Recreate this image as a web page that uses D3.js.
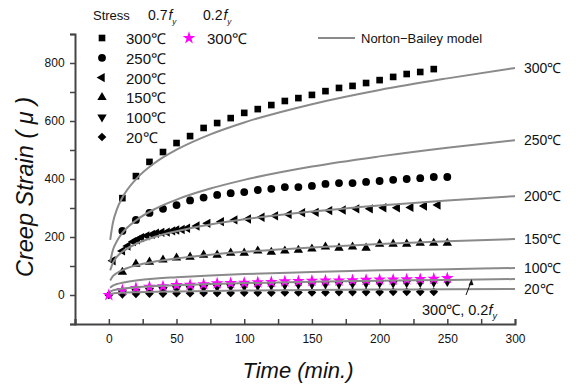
<!doctype html>
<html lang="en">
  <head>
    <meta charset="utf-8">
    <title>Creep strain</title>
    <script src="https://cdn.jsdelivr.net/npm/d3@7"></script>
    <style>
      body { margin: 0; background: #fff; }
      text { font-family: Arial, "Liberation Sans", sans-serif; fill: #111; }
    </style>
  </head>
  <body>
    <script>
      // measured data (0.7fy unless noted)
      const t10 = d3.range(10, 251, 10);
      const s300 = [334, 410, 459, 493, 524, 548, 576, 593, 610, 628, 641, 655, 669, 679, 690, 703, 714, 721, 731, 741, 752, 762, 769, 779];
      const s250 = [221, 259, 283, 297, 310, 326, 336, 345, 351, 355, 362, 366, 372, 372, 376, 383, 386, 386, 390, 393, 397, 400, 403, 407, 407];
      const t200 = [3, 10, 14, 18, 21, 24, 28, 32, 35, 39, 43, 47, 50, 54, 58, 65, 73,
                    83, 93, 103, 113, 123, 133, 143, 153, 163, 173, 183, 193, 203, 213, 223, 233, 243];
      const s200 = [118, 152, 169, 184, 190, 198, 204, 209, 213, 216, 217, 221, 224, 226, 230, 238, 247,
                    253, 259, 262, 268, 273, 278, 284, 285, 291, 293, 297, 297, 301, 301, 302, 307, 310];
      const s150 = [79, 107, 114, 121, 128, 131, 138, 138, 145, 145, 152, 148, 152, 155, 159, 166, 162, 166, 162, 176, 176, 176, 179, 179, 179];
      const s100 = [6, 12, 16, 18, 22, 23, 25, 28, 29, 30, 32, 33, 35, 36, 37, 38, 38, 39, 40, 41, 41, 42, 43, 44, 46];
      const t20 = d3.range(0, 241, 10);
      const s20 = [0, 3, 4, 5, 5, 6, 6, 7, 7, 7, 8, 8, 8, 9, 9, 9, 9, 10, 10, 10, 10, 11, 11, 11, 11];
      const tStar = d3.range(0, 251, 10);
      const s300low = [0, 17, 24, 28, 30, 34, 35, 37, 40, 41, 42, 44, 45, 47, 48, 49, 50, 50, 51, 52, 53, 53, 54, 55, 56, 58];

      // Norton-Bailey model curves
      const tModel = [1, 3, 6, 10, 20, 35, 50, 75, 100, 150, 200, 250, 300];
      const m300 = [190, 249, 296, 336, 399, 459, 501, 554, 595, 658, 707, 747, 783];
      const m250 = [115, 155, 186, 214, 257, 299, 329, 367, 397, 443, 478, 508, 534];
      const m200 = [85, 111, 132, 149, 176, 202, 220, 243, 261, 288, 309, 326, 341];
      const m150 = [50, 65, 76, 86, 102, 116, 126, 139, 149, 164, 176, 185, 193];
      const m100 = [25, 32, 38, 42, 50, 57, 61, 67, 72, 79, 85, 89, 93];
      const m300low = [12, 16, 19, 22, 27, 31, 34, 38, 41, 46, 49, 52, 55];
      const m20 = [4, 5.5, 6.7, 7.8, 9.5, 11.2, 12.4, 14, 15.2, 17.1, 18.6, 19.8, 21];

      const curveLabels = ["300℃", "250℃", "200℃", "150℃", "100℃", "20℃"];
      const legendLabels = ["300℃", "250℃", "200℃", "150℃", "100℃", "20℃"];

      const w = 578, h = 388;
      const x = d3.scaleLinear().domain([-25, 300]).range([75, 515]);
      const y = d3.scaleLinear().domain([-100, 900]).range([324, 34]);

      const svg = d3.select("body").append("svg").attr("width", w).attr("height", h);

      const shapes = {
        square: { type: d3.symbolSquare, size: 44, rot: 0, fill: "#000" },
        circle: { type: d3.symbolCircle, size: 48, rot: 0, fill: "#000" },
        left: { type: d3.symbolTriangle, size: 38, rot: -90, fill: "#000" },
        up: { type: d3.symbolTriangle, size: 38, rot: 0, fill: "#000" },
        down: { type: d3.symbolTriangle, size: 38, rot: 180, fill: "#000" },
        diamond: { type: d3.symbolSquare, size: 38, rot: 45, fill: "#000" },
        star: { type: d3.symbolStar, size: 50, rot: 0, fill: "#ff00ff" }
      };

      const series = [
        { t: t10.slice(0, s300.length), v: s300, shape: "square" },
        { t: t10, v: s250, shape: "circle" },
        { t: t200, v: s200, shape: "left" },
        { t: t10, v: s150, shape: "up" },
        { t: t10, v: s100, shape: "down" },
        { t: t20, v: s20, shape: "diamond" },
        { t: tStar, v: s300low, shape: "star" }
      ];

      function drawSymbol(g, shape, cx, cy) {
        const s = shapes[shape];
        g.append("path")
          .attr("d", d3.symbol().type(s.type).size(s.size)())
          .attr("fill", s.fill)
          .attr("transform", "translate(" + cx + "," + cy + ") rotate(" + s.rot + ")");
      }

      // axes
      const yAxis = d3.axisLeft(y).tickValues(d3.range(-100, 901, 100))
        .tickSize(5).tickFormat(d => (d >= 0 && d % 200 === 0 && d <= 800) ? d : "");
      const gy = svg.append("g").attr("transform", "translate(75,0)").call(yAxis);
      const xAxis = d3.axisBottom(x).tickValues(d3.range(-25, 301, 25))
        .tickSize(-5).tickFormat(d => (d >= 0 && d % 50 === 0) ? d : "");
      const gx = svg.append("g").attr("transform", "translate(0,324)").call(xAxis);
      [gx, gy].forEach(g => {
        g.select(".domain").attr("stroke", "#444").attr("stroke-width", 2);
        g.selectAll(".tick line").attr("stroke", "#444").attr("stroke-width", 1.5);
        g.selectAll(".tick text").attr("font-size", 12).attr("fill", "#111")
          .attr("font-family", "Arial, 'Liberation Sans', sans-serif");
      });
      gx.selectAll(".tick text").attr("dy", "1.3em");
      gy.selectAll(".tick text").attr("dx", "-0.2em");

      // markers
      const marks = svg.append("g");
      series.forEach(s => {
        s.t.forEach((t, i) => drawSymbol(marks, s.shape, x(t), y(s.v[i])));
      });

      // model curves
      const models = [m300, m250, m200, m150, m100, m300low, m20];
      const line = d3.line().x((d, i) => x(tModel[i])).y(d => y(d)).curve(d3.curveMonotoneX);
      models.forEach(m => {
        svg.append("path").attr("d", line(m)).attr("fill", "none")
          .attr("stroke", "#8a8a8a").attr("stroke-width", 2);
      });

      // curve end labels
      const endVals = [m300, m250, m200, m150, m100, m20];
      endVals.forEach((m, i) => {
        svg.append("text").attr("x", 524).attr("y", y(m[m.length - 1]) + 5)
          .attr("font-size", 14).text(curveLabels[i]);
      });

      // annotation for 0.2fy curve
      svg.append("line").attr("x1", 466).attr("y1", 295).attr("x2", 471).attr("y2", 282)
        .attr("stroke", "#111").attr("stroke-width", 1);
      svg.append("path").attr("d", "M471.5,279 L468.5,285.5 L473.5,285 Z").attr("fill", "#111");
      const ann = svg.append("text").attr("x", 422).attr("y", 315).attr("font-size", 14.5);
      ann.append("tspan").text("300℃, 0.2");
      ann.append("tspan").attr("font-style", "italic").text("f");
      ann.append("tspan").attr("font-size", 9).attr("dy", 4).attr("font-style", "italic").text("y");

      // legend header
      const hdr = svg.append("g").attr("font-size", 13);
      hdr.append("text").attr("x", 93).attr("y", 20).text("Stress");
      [[148, "0.7"], [203, "0.2"]].forEach(([hx, lbl]) => {
        const tx = hdr.append("text").attr("x", hx).attr("y", 20).attr("font-size", 14);
        tx.append("tspan").text(lbl);
        tx.append("tspan").attr("dx", 1).attr("font-style", "italic").text("f");
        tx.append("tspan").attr("font-size", 8).attr("dy", 4).attr("font-style", "italic").text("y");
      });

      const legendShapes = ["square", "circle", "left", "up", "down", "diamond"];
      legendShapes.forEach((s, i) => {
        const ly = 38 + i * 19.8;
        drawSymbol(svg, s, 102, ly);
        svg.append("text").attr("x", 126).attr("y", ly + 6).attr("font-size", 15).text(legendLabels[i]);
      });
      drawSymbol(svg, "star", 189, 38);
      svg.append("text").attr("x", 207).attr("y", 44).attr("font-size", 15).text("300℃");

      svg.append("line").attr("x1", 318).attr("x2", 355).attr("y1", 38).attr("y2", 38)
        .attr("stroke", "#8a8a8a").attr("stroke-width", 2);
      svg.append("text").attr("x", 361).attr("y", 43).attr("font-size", 13).text("Norton−Bailey model");

      // axis titles
      svg.append("text").attr("transform", "translate(33,187) rotate(-90)")
        .attr("text-anchor", "middle").attr("font-size", 23.5).attr("font-style", "italic")
        .text("Creep Strain ( μ )");
      svg.append("text").attr("x", 298).attr("y", 378).attr("text-anchor", "middle")
        .attr("font-size", 22).attr("font-style", "italic").text("Time (min.)");
    </script>
  </body>
</html>
